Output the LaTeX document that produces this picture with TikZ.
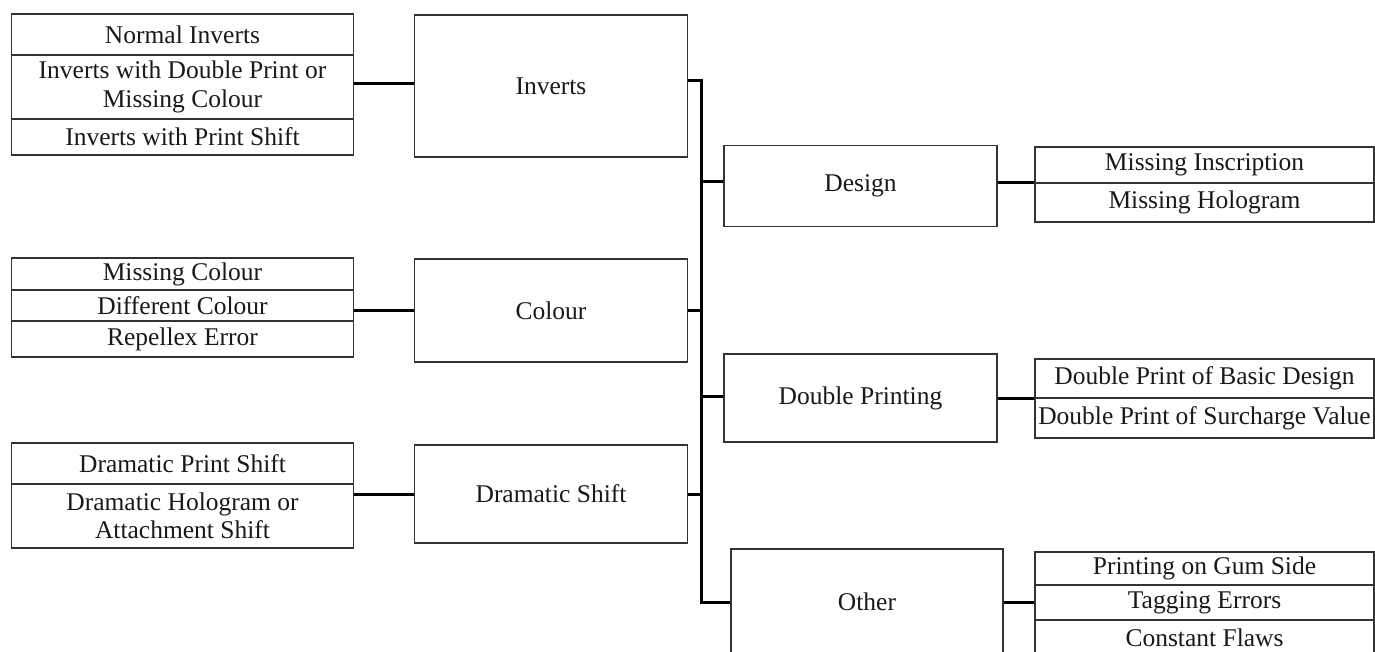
\documentclass[tikz,border=0pt]{standalone}
\usepackage{fontspec}
\setmainfont{Liberation Serif}
\newcommand\boxfont{\fontsize{25.5}{28.5}\selectfont}
\begin{document}
\begin{tikzpicture}[x=1pt,y=-1pt,
  box/.style={draw=black!80, line width=1.2pt, inner sep=0pt, align=center, font=\boxfont, text=black!90},
  link/.style={draw=black, line width=3pt}]
\useasboundingbox (0,0) rectangle (1375,652);
\clip (0,0) rectangle (1375,652);
% left groups
\node[box, minimum width=342pt, minimum height=41pt] (i1) at (182.5,34.5) {Normal Inverts};
\node[box, minimum width=342pt, minimum height=64pt] (i2) at (182.5,87) {Inverts with Double Print or\\Missing Colour};
\node[box, minimum width=342pt, minimum height=36pt] (i3) at (182.5,137) {Inverts with Print Shift};
\node[box, minimum width=342pt, minimum height=32pt] (c1) at (182.5,274) {Missing Colour};
\node[box, minimum width=342pt, minimum height=31pt] (c2) at (182.5,305.5) {Different Colour};
\node[box, minimum width=342pt, minimum height=36pt] (c3) at (182.5,339) {Repellex Error};
\node[box, minimum width=342pt, minimum height=41pt] (d1) at (182.5,463.5) {Dramatic Print Shift};
\node[box, minimum width=342pt, minimum height=64pt] (d2) at (182.5,516) {Dramatic Hologram or\\Attachment Shift};
% middle categories
\node[box, minimum width=272.5pt, minimum height=142pt] (inv) at (551,86) {Inverts};
\node[box, minimum width=272.5pt, minimum height=103pt] (col) at (551,310.5) {Colour};
\node[box, minimum width=272.5pt, minimum height=98pt] (drs) at (551,494) {Dramatic Shift};
% right categories
\node[box, minimum width=273pt, minimum height=81pt] (des) at (860.5,186) {Design};
\node[box, minimum width=273pt, minimum height=88pt] (dbl) at (860.5,398) {Double Printing};
\node[box, minimum width=272pt, minimum height=106pt] (oth) at (867,602) {Other};
% right groups
\node[box, minimum width=339pt, minimum height=36pt] (s1) at (1204.5,165) {Missing Inscription};
\node[box, minimum width=339pt, minimum height=39pt] (s2) at (1204.5,202.5) {Missing Hologram};
\node[box, minimum width=339pt, minimum height=39pt] (p1) at (1204.5,378.5) {Double Print of Basic Design};
\node[box, minimum width=339pt, minimum height=40pt] (p2) at (1204.5,418) {Double Print of Surcharge Value};
\node[box, minimum width=339pt, minimum height=33pt] (o1) at (1204.5,568.5) {Printing on Gum Side};
\node[box, minimum width=339pt, minimum height=35pt] (o2) at (1204.5,602.5) {Tagging Errors};
\node[box, minimum width=339pt, minimum height=35pt] (o3) at (1204.5,637.5) {Constant Flaws};
% connectors left
\draw[link] ([yshift=3pt]i2.east) -- ([yshift=3pt]i2.east -| inv.west);
\draw[link] (col.west) -- (col.west -| c2.east);
\draw[link] (drs.west) -- (drs.west -| d2.east);
% trunk
\coordinate (tr) at (701,0);
\draw[link] ([yshift=5pt]inv.east) -| (tr |- oth.west) -- (oth.west);
\draw[link] (col.east) -- (col.east -| tr);
\draw[link] (drs.east) -- (drs.east -| tr);
\draw[link] ([yshift=4pt]des.west) -- ([yshift=4pt]des.west -| tr);
\draw[link] ([yshift=2pt]dbl.west) -- ([yshift=2pt]dbl.west -| tr);
% connectors right
\draw[link] ([yshift=3pt]des.east) -- ([yshift=3pt]des.east -| s1.west);
\draw[link] (dbl.east) -- (dbl.east -| p1.west);
\draw[link] (oth.east) -- (oth.east -| o1.west);
\end{tikzpicture}
\end{document}
